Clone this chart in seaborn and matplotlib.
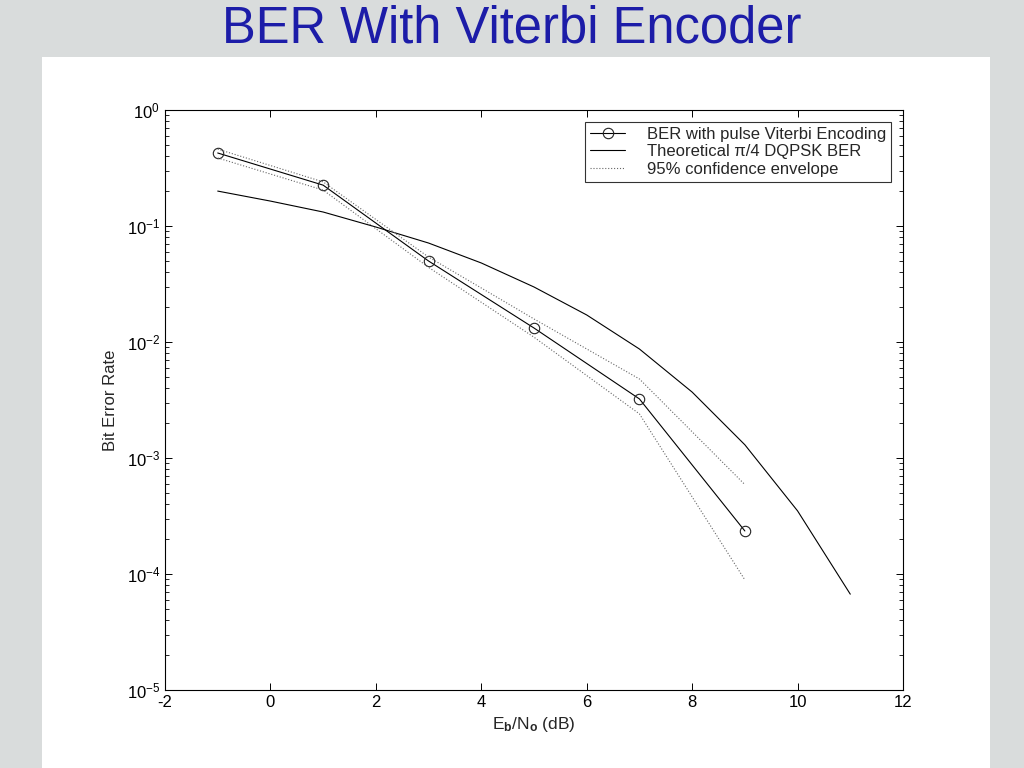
import numpy as np
import pandas as pd
import matplotlib
matplotlib.use("Agg")
import matplotlib.pyplot as plt
import seaborn as sns
from matplotlib.patches import Rectangle
from matplotlib.ticker import LogLocator, NullFormatter

# -----------------------------
# data
# -----------------------------
ebno_sim = [-1, 1, 3, 5, 7, 9]
ber_sim = [0.426, 0.225, 0.0499, 0.0132, 0.00323, 0.000235]
ber_upper = [0.46, 0.24, 0.054, 0.0158, 0.0048, 0.00059]
ber_lower = [0.386, 0.204, 0.044, 0.011, 0.0024, 0.000089]

ebno_theory = [-1, 0, 1, 2, 3, 4, 5, 6, 7, 8, 9, 10, 11]
ber_theory = [0.200, 0.164, 0.132, 0.098, 0.0713, 0.048, 0.0298,
              0.0171, 0.0087, 0.0037, 0.0013, 0.00035, 0.000067]

sns.set_style("ticks")
plt.rcParams["font.family"] = ["Liberation Sans", "DejaVu Sans"]
plt.rcParams["mathtext.fontset"] = "custom"
plt.rcParams["mathtext.rm"] = "Liberation Sans"
plt.rcParams["mathtext.it"] = "Liberation Sans:italic"
plt.rcParams["mathtext.bf"] = "Liberation Sans:bold"
plt.rcParams["axes.unicode_minus"] = False

df_sim = pd.DataFrame({"ebno": ebno_sim, "ber": ber_sim,
                       "up": ber_upper, "lo": ber_lower})
df_th = pd.DataFrame({"ebno": ebno_theory, "ber": ber_theory})

fig = plt.figure(figsize=(10.24, 7.68), dpi=100)
fig.patch.set_facecolor("#d9dcdc")

# white slide panel
fig.patches.append(Rectangle((42 / 1024, 0), (990 - 42) / 1024, 1 - 57 / 768,
                             transform=fig.transFigure, facecolor="white",
                             edgecolor="none", zorder=-10))

fig.text(0.5, 0.962, "BER With Viterbi Encoder", ha="center", va="center",
         fontsize=36.5, color="#1c1ca8")

ax = fig.add_axes([165 / 1024, 1 - 690 / 768, 738 / 1024, 580 / 768])

# ─ simulated BER with markers
sns.lineplot(data=df_sim, x="ebno", y="ber", ax=ax, color="black", lw=0.8,
             marker="o", markersize=7.5, markerfacecolor="none",
             markeredgecolor="#222222", markeredgewidth=0.8,
             label="BER with pulse Viterbi Encoding")
# ─ theory
sns.lineplot(data=df_th, x="ebno", y="ber", ax=ax, color="black", lw=0.8,
             label="Theoretical \u03c0/4 DQPSK BER")
# ─ 95% envelope
sns.lineplot(data=df_sim, x="ebno", y="up", ax=ax, color="#666666", lw=0.8,
             linestyle=":", label="95% confidence envelope")
sns.lineplot(data=df_sim, x="ebno", y="lo", ax=ax, color="#666666", lw=0.8,
             linestyle=":", label="_nolegend_")

ax.set_yscale("log")
ax.set_xlim(-2, 12)
ax.set_ylim(1e-5, 1)
ax.set_xticks(range(-2, 13, 2))
ax.yaxis.set_major_locator(LogLocator(base=10, numticks=10))
ax.yaxis.set_minor_locator(LogLocator(base=10, subs=np.arange(2, 10), numticks=10))
ax.yaxis.set_minor_formatter(NullFormatter())

ax.tick_params(which="both", direction="in", top=True, right=True,
               labelsize=12, colors="black")
ax.tick_params(which="major", length=5, width=0.7)
ax.tick_params(which="minor", length=3, width=0.6)
for s in ax.spines.values():
    s.set_linewidth(0.8)
    s.set_color("black")

ax.set_xlabel(r"E$_\mathbf{b}$/N$_\mathbf{o}$ (dB)", fontsize=12.5, labelpad=4)
ax.set_ylabel("Bit Error Rate", fontsize=12, labelpad=6)
ax.grid(False)

leg = ax.legend(loc="upper right", fontsize=12, frameon=True, fancybox=False,
                edgecolor="black", borderpad=0.3, labelspacing=0.15,
                handlelength=2.1, handletextpad=1.3, borderaxespad=0.7)
leg.get_frame().set_linewidth(0.8)

fig.savefig("out.png", dpi=100, facecolor=fig.get_facecolor())
